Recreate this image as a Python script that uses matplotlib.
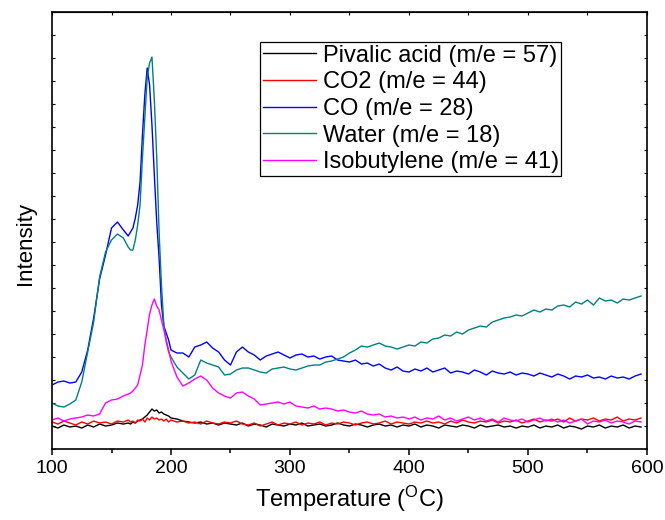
import numpy as np
import matplotlib
matplotlib.use("Agg")
import matplotlib.pyplot as plt
from matplotlib.ticker import MultipleLocator, NullFormatter

plt.rcParams['font.family'] = ['Liberation Sans', 'DejaVu Sans']
plt.rcParams['mathtext.fontset'] = 'custom'
plt.rcParams['mathtext.rm'] = 'Liberation Sans'

# Temperature grid (°C): finer steps across the desorption peak
temperature = np.r_[np.arange(100, 165, 5), np.arange(164, 200, 2), np.arange(200, 600, 5)]

# Mass-spec intensities (arbitrary units)
pivalic_acid = [
    23, 21, 24, 22, 23, 21, 24, 22, 25, 23, 24, 26, 25,
    26, 25, 27, 26, 28, 29, 30, 32, 34, 37, 40, 38, 39, 36, 37, 35, 34, 33,
    31, 30, 28, 27, 26, 27, 25, 26, 24, 26,
    25, 24, 26, 23, 25, 24, 22, 25, 24, 23,
    25, 24, 26, 23, 24, 25, 23, 24, 26, 24,
    23, 25, 24, 22, 24, 25, 23, 24, 22, 24,
    23, 25, 22, 24, 23, 21, 24, 23, 22, 24,
    23, 21, 24, 22, 23, 24, 22, 23, 21, 23,
    22, 24, 21, 23, 22, 24, 21, 23, 22, 20,
    23, 22, 24, 21, 23, 22, 24, 21, 23, 22,
]
co2 = [
    27, 25, 28, 26, 24, 27, 25, 28, 26, 27, 25, 28, 27,
    29, 27, 28, 26, 29, 28, 30, 27, 31, 29, 32, 30, 31, 29, 30, 28, 30, 27,
    29, 27, 28, 26, 27, 25, 28, 26, 25, 27,
    26, 28, 25, 24, 26, 23, 25, 27, 24, 26,
    25, 27, 24, 26, 25, 27, 24, 26, 25, 27,
    26, 24, 26, 27, 25, 26, 28, 25, 27, 26,
    25, 27, 26, 28, 26, 27, 25, 28, 26, 29,
    27, 26, 28, 27, 29, 26, 28, 27, 29, 26,
    28, 30, 27, 29, 28, 30, 27, 31, 28, 30,
    29, 31, 28, 30, 29, 32, 28, 30, 29, 31,
]
co = [
    64, 67, 68, 66, 67, 77, 99, 131, 170, 194, 221, 227, 219,
    213, 217, 221, 231, 244, 267, 314, 354, 381, 364, 324, 274, 227, 191, 144, 123, 116, 109,
    99, 96, 96, 92, 102, 104, 107, 101, 97, 89,
    84, 97, 102, 97, 94, 89, 93, 95, 97, 94,
    91, 94, 95, 92, 93, 90, 92, 93, 89, 88,
    87, 89, 85, 86, 83, 85, 81, 79, 82, 78,
    77, 80, 78, 81, 77, 79, 81, 76, 78, 77,
    75, 79, 77, 74, 78, 76, 75, 77, 74, 76,
    75, 73, 76, 74, 72, 75, 73, 70, 73, 72,
    74, 71, 72, 70, 73, 71, 72, 70, 73, 75,
]
water = [
    46, 43, 42, 45, 49, 67, 97, 127, 172, 197, 209, 215, 211,
    202, 199, 199, 209, 224, 244, 291, 331, 371, 386, 392, 349, 292, 217, 164, 124, 107, 97,
    92, 82, 76, 70, 74, 89, 86, 84, 82, 74,
    75, 79, 81, 81, 79, 77, 76, 80, 81, 82,
    80, 79, 81, 83, 84, 84, 87, 88, 90, 92,
    96, 99, 103, 102, 104, 106, 103, 102, 100, 102,
    104, 103, 107, 106, 110, 111, 114, 113, 117, 115,
    119, 121, 123, 122, 127, 129, 131, 132, 134, 133,
    136, 139, 137, 140, 139, 143, 144, 142, 147, 145,
    149, 144, 151, 148, 149, 146, 150, 149, 151, 153,
]
isobutylene = [
    29, 31, 28, 30, 31, 32, 34, 33, 35, 46, 49, 50, 53,
    55, 56, 58, 61, 64, 74, 84, 104, 119, 135, 144, 150, 143, 139, 129, 119, 109, 99,
    88, 72, 63, 66, 70, 73, 69, 61, 56, 53,
    51, 56, 57, 53, 50, 44, 45, 46, 47, 45,
    47, 43, 42, 41, 43, 40, 41, 40, 38, 39,
    37, 36, 38, 35, 34, 35, 32, 33, 31, 32,
    30, 32, 29, 31, 30, 33, 29, 31, 28, 30,
    32, 29, 31, 28, 30, 27, 31, 29, 28, 30,
    27, 29, 31, 28, 30, 27, 29, 26, 28, 30,
    25, 28, 27, 29, 26, 28, 27, 25, 28, 27,
]

series = [
    ("Pivalic acid (m/e = 57)", pivalic_acid, "#000000"),
    ("CO2 (m/e = 44)", co2, "#FF0000"),
    ("CO (m/e = 28)", co, "#0000FF"),
    ("Water (m/e = 18)", water, "#008080"),
    ("Isobutylene (m/e = 41)", isobutylene, "#FF00FF"),
]

fig = plt.figure(figsize=(6.65, 5.2), dpi=100)
ax = fig.add_axes([0.0782, 0.1365, 0.8947, 0.8404])

for label, values, color in series:
    ax.plot(temperature, values, color=color, lw=1.0, label=label)

ax.set_xlim(100, 600)
ax.set_ylim(0, 437)
ax.xaxis.set_major_locator(MultipleLocator(100))
ax.xaxis.set_minor_locator(MultipleLocator(50))
ax.yaxis.set_major_locator(MultipleLocator(23))
ax.yaxis.set_major_formatter(NullFormatter())

for sp in ax.spines.values():
    sp.set_linewidth(1.2)

ax.tick_params(axis='x', which='major', direction='out', length=4, width=1.1,
               labelsize=14, pad=4, top=False)
ax.tick_params(axis='x', which='minor', direction='out', length=3, width=1.1, top=False)
ax.tick_params(axis='y', which='both', direction='in', length=2.5, width=0.8,
               left=True, right=True, labelleft=False)

top = ax.secondary_xaxis('top')
top.set_xticks(np.arange(100, 601, 50))
top.tick_params(direction='in', length=2.5, width=0.8, labeltop=False)

ax.set_xlabel("Temperature ($\\mathrm{^{O}}$C)", fontsize=17, labelpad=5)
ax.set_ylabel("Intensity", fontsize=16)
ax.yaxis.set_label_coords(-0.027, 0.47)

leg = ax.legend(loc='upper left', bbox_to_anchor=(0.350, 0.931), borderaxespad=0,
                fontsize=17, frameon=True, fancybox=False, edgecolor='black',
                framealpha=1, handlelength=2.25, handletextpad=0.3,
                labelspacing=0.2, borderpad=0.1)
leg.get_frame().set_linewidth(0.9)

fig.savefig("out.png", dpi=100)
